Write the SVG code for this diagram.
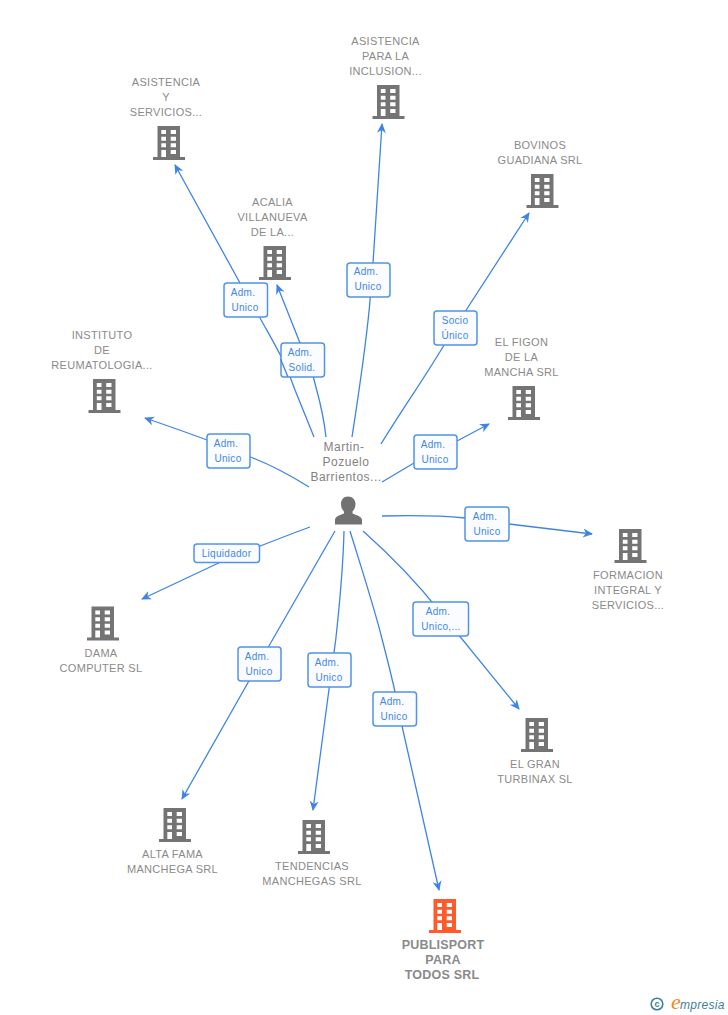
<svg xmlns="http://www.w3.org/2000/svg" width="728" height="1015" viewBox="0 0 728 1015">
<style>
.t{font-family:"Liberation Sans",Arial,sans-serif;font-size:11px;fill:#8a8a8a;text-anchor:middle;letter-spacing:.3px}
.p{font-size:12px;letter-spacing:.5px;fill:#828282}
.b{font-size:12.5px;font-weight:bold;letter-spacing:.2px;fill:#8a8a8a}
.c{fill:none;stroke:#3f84e5;stroke-width:1.3;marker-end:url(#a)}
.l{fill:#fbfcff;stroke:#5293e8;stroke-width:1.5}
.lt{font-family:"Liberation Sans",Arial,sans-serif;font-size:10px;letter-spacing:.3px;fill:#4287e6;text-anchor:middle}
</style>
<defs>
<marker id="a" markerWidth="11" markerHeight="10" refX="9" refY="5" orient="auto" markerUnits="userSpaceOnUse"><path d="M0 0.500L10 5L0 9.500L3 5Z" fill="#3f84e5"/></marker>
<symbol id="bld" viewBox="0 0 32 34" overflow="visible">
<path fill-rule="evenodd" d="M4.500 0H27V31H32V34H0V31H4.500ZM8.300 4V8H13V4ZM17.700 4V8H23V4ZM8.300 10.700V14.700H13V10.700ZM17.700 10.700V14.700H23V10.700ZM8.300 17.300V21.300H13V17.300ZM17.700 17.300V21.300H23V17.300ZM8.300 24V31H13V24ZM17.700 24V28H23V24Z"/>
</symbol>
</defs>
<g id="connectors">
<path class="c" d="M314 437C305 415 300 402 295 390C285 360 272 340 260 318L240 283L175 165"/>
<path class="c" d="M352 437C360 385 367 340 370.300 297L373 263L382 124"/>
<path class="c" d="M381 444C405 405 430 370 450 335L529 213"/>
<path class="c" d="M326 437C324 420 320 402 316.700 390L313.300 377L300 343L277 285"/>
<path class="c" d="M309 487C285 472 265 462 245 455C215 442 180 430 145 418"/>
<path class="c" d="M382 482L414 463L457 441L489 424"/>
<path class="c" d="M382 516C420 515 445 516 465 518L509 524L592 534"/>
<path class="c" d="M310 527C280 538 250 550 225 560L142 599"/>
<path class="c" d="M363 531C390 555 415 580 440 612L519 709"/>
<path class="c" d="M335 531L258 665L182 799"/>
<path class="c" d="M344 531C343 570 339 610 335.700 640L329.300 687L313 810"/>
<path class="c" d="M350 531C362 570 375 610 382.300 640C388 662 392 678 395 692L402 726L439 890"/>
</g>
<g id="labels">
<rect class="l" x="224" y="283" width="43.500" height="34" rx="3"/><text class="lt" x="243" y="296">Adm.</text><text class="lt" x="245" y="311">Unico</text>
<rect class="l" x="347" y="263" width="43" height="34" rx="3"/><text class="lt" x="366" y="275">Adm.</text><text class="lt" x="368" y="290">Unico</text>
<rect class="l" x="434" y="311" width="43" height="34" rx="3"/><text class="lt" x="455" y="324">Socio</text><text class="lt" x="455" y="339">Único</text>
<rect class="l" x="281" y="343" width="43.500" height="34" rx="3"/><path d="M280.500 359L288 377" fill="none" stroke="#3f84e5" stroke-width="1.300"/><text class="lt" x="300" y="356">Adm.</text><text class="lt" x="302" y="371">Solid.</text>
<rect class="l" x="207" y="434" width="43" height="34" rx="3"/><text class="lt" x="226" y="447">Adm.</text><text class="lt" x="228" y="462">Unico</text>
<rect class="l" x="414" y="435" width="43" height="34" rx="3"/><text class="lt" x="433" y="448">Adm.</text><text class="lt" x="435" y="463">Unico</text>
<rect class="l" x="465" y="507" width="44" height="34" rx="3"/><text class="lt" x="485" y="520">Adm.</text><text class="lt" x="487" y="535">Unico</text>
<rect class="l" x="194" y="544" width="65.500" height="18.500" rx="3"/><text class="lt" x="226.500" y="557">Liquidador</text>
<rect class="l" x="413" y="602" width="55.500" height="34" rx="3"/><text class="lt" x="438" y="615">Adm.</text><text class="lt" x="441" y="630">Unico,...</text>
<rect class="l" x="238" y="647" width="43" height="34" rx="3"/><text class="lt" x="257" y="660">Adm.</text><text class="lt" x="259" y="675">Unico</text>
<rect class="l" x="308" y="653" width="43" height="34" rx="3"/><text class="lt" x="327" y="666">Adm.</text><text class="lt" x="329" y="681">Unico</text>
<rect class="l" x="373" y="692" width="43.500" height="34" rx="3"/><text class="lt" x="392" y="705">Adm.</text><text class="lt" x="394" y="720">Unico</text>
</g>
<g id="person">
<text class="t p" x="344" y="451">Martin-</text><text class="t p" x="346" y="466">Pozuelo</text><text class="t p" x="346" y="481">Barrientos...</text>
<path fill="#727272" d="M348 496.500C343.500 496.500 341 500 341 504C341 507.500 342.500 510 344 511.500V513.500C340 515 335 516.500 335 520V524.500H362V520C362 516.500 356 515 352.500 513.500V511.500C354 510 355.500 507.500 355.500 504C355.500 500 352.500 496.500 348 496.500Z"/>
</g>
<g id="n1" fill="#747474"><use href="#bld" x="153" y="126" width="32" height="34"/><text class="t" x="166" y="86">ASISTENCIA</text><text class="t" x="166" y="101">Y</text><text class="t" x="166" y="116">SERVICIOS...</text></g>
<g id="n2" fill="#747474"><use href="#bld" x="372.500" y="85" width="32" height="34"/><text class="t" x="385.500" y="45">ASISTENCIA</text><text class="t" x="385.500" y="60">PARA LA</text><text class="t" x="385.500" y="75">INCLUSION...</text></g>
<g id="n3" fill="#747474"><use href="#bld" x="526.500" y="174" width="32" height="34"/><text class="t" x="540" y="149">BOVINOS</text><text class="t" x="540" y="164">GUADIANA SRL</text></g>
<g id="n4" fill="#747474"><use href="#bld" x="259" y="246" width="32" height="34"/><text class="t" x="272.500" y="206">ACALIA</text><text class="t" x="272.500" y="221">VILLANUEVA</text><text class="t" x="272.500" y="236">DE LA...</text></g>
<g id="n5" fill="#747474"><use href="#bld" x="88.500" y="379" width="32" height="34"/><text class="t" x="102" y="339">INSTITUTO</text><text class="t" x="102" y="354">DE</text><text class="t" x="102" y="369">REUMATOLOGIA...</text></g>
<g id="n6" fill="#747474"><use href="#bld" x="508" y="386" width="32" height="34"/><text class="t" x="521.500" y="346">EL FIGON</text><text class="t" x="521.500" y="361">DE LA</text><text class="t" x="521.500" y="376">MANCHA SRL</text></g>
<g id="n7" fill="#747474"><use href="#bld" x="614.500" y="529" width="32" height="34"/><text class="t" x="628" y="579">FORMACION</text><text class="t" x="628" y="594">INTEGRAL Y</text><text class="t" x="628" y="609">SERVICIOS...</text></g>
<g id="n8" fill="#747474"><use href="#bld" x="87" y="606.500" width="32" height="34"/><text class="t" x="101" y="657">DAMA</text><text class="t" x="101" y="672">COMPUTER SL</text></g>
<g id="n9" fill="#747474"><use href="#bld" x="521" y="718" width="32" height="34"/><text class="t" x="535" y="768">EL GRAN</text><text class="t" x="535" y="783">TURBINAX SL</text></g>
<g id="n10" fill="#747474"><use href="#bld" x="159" y="808" width="32" height="34"/><text class="t" x="172.500" y="858">ALTA FAMA</text><text class="t" x="172.500" y="873">MANCHEGA SRL</text></g>
<g id="n11" fill="#747474"><use href="#bld" x="298" y="820" width="32" height="34"/><text class="t" x="312" y="870">TENDENCIAS</text><text class="t" x="312" y="885">MANCHEGAS SRL</text></g>
<g id="n12" fill="#ff5a2b"><use href="#bld" x="429" y="899" width="32" height="34"/><text class="t b" x="443" y="949">PUBLISPORT</text><text class="t b" x="443" y="964">PARA</text><text class="t b" x="442" y="979">TODOS SRL</text></g>
<g id="brand">
<circle cx="657" cy="1004" r="5.800" fill="none" stroke="#3d7f99" stroke-width="1.600"/>
<text x="657" y="1007" font-family="Liberation Sans,sans-serif" font-size="9" font-weight="bold" fill="#3d7f99" text-anchor="middle">c</text>
<text x="671" y="1009" font-family="Liberation Serif,serif" font-style="italic" font-size="22" fill="#f08a1d">e</text>
<text x="680" y="1009" font-family="Liberation Sans,sans-serif" font-style="italic" font-size="12" letter-spacing=".3" fill="#3d7f99">mpresia</text>
</g>
</svg>
